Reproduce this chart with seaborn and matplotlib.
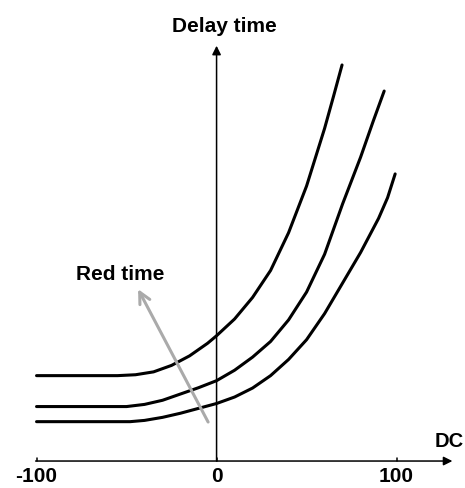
import pandas as pd
import numpy as np
import matplotlib
matplotlib.use('Agg')
import matplotlib.pyplot as plt
import seaborn as sns

# pontos (DC, Delay time) para as 3 curvas
c1_x = [-100, -55, -45, -35, -25, -15, -5, 0, 10, 20, 30, 40, 50, 60, 65, 69.7]
c1_y = [47.5, 47.5, 48.0, 49.6, 53.2, 58.5, 65.5, 69.7, 79.0, 91.0, 106, 127, 153, 185, 203, 220.3]

c2_x = [-100, -50, -40, -30, -20, -10, 0, 10, 20, 30, 40, 50, 60, 70, 80, 87, 93.1]
c2_y = [30.3, 30.3, 31.5, 33.8, 37.3, 40.8, 44.7, 50.5, 57.8, 66.5, 78.5, 94, 115, 143, 169, 189, 205.8]

c3_x = [-100, -48, -40, -30, -20, -10, 0, 10, 20, 30, 40, 50, 60, 70, 80, 90, 95, 99.2]
c3_y = [21.9, 21.9, 22.6, 24.3, 26.6, 29.3, 32.0, 35.6, 40.6, 47.5, 56.5, 67.5, 82, 99, 116, 135, 146.5, 159.7]

tick_vals = [-100, 0, 100]
tick_labels = ['-100', '0', '100']

df = pd.concat([
    pd.DataFrame({'DC': c1_x, 'Delay': c1_y, 'curve': 'c1'}),
    pd.DataFrame({'DC': c2_x, 'Delay': c2_y, 'curve': 'c2'}),
    pd.DataFrame({'DC': c3_x, 'Delay': c3_y, 'curve': 'c3'}),
])

sns.set_style('white')
plt.rcParams['font.family'] = ['Liberation Sans', 'DejaVu Sans']
plt.rcParams['text.color'] = 'black'

fig = plt.figure(figsize=(4.65, 4.89), dpi=100)
ax = fig.add_axes([0, 0, 1, 1])

sns.lineplot(data=df, x='DC', y='Delay', hue='curve', palette=['black'] * 3,
             estimator=None, sort=False, linewidth=2.2, legend=False, ax=ax)

ax.set_xlim(-120.3, 138)
ax.set_ylim(-15, 257)
ax.axis('off')

# eixos com setas
ax.annotate('', xy=(131, 0), xytext=(-100.5, 0),
            arrowprops=dict(arrowstyle='-|>', color='black', lw=1.1, mutation_scale=13,
                            shrinkA=0, shrinkB=0))
ax.annotate('', xy=(0, 231), xytext=(0, 0),
            arrowprops=dict(arrowstyle='-|>', color='black', lw=1.1, mutation_scale=13,
                            shrinkA=0, shrinkB=0))
for v in tick_vals:
    ax.plot([v, v], [0, 1.8], color='black', lw=1.1)
for v, lab in zip(tick_vals, tick_labels):
    ax.text(v, -2.5, lab, ha='center', va='top', fontsize=15, fontweight='bold', color='black')

ax.text(129, 6, 'DC', ha='center', va='bottom', fontsize=14.5, fontweight='bold', color='black')
ax.text(4.5, 242.5, 'Delay time', ha='center', va='center', fontsize=15, fontweight='bold', color='black')

# seta cinza "Red time"
ax.annotate('', xy=(-43.6, 95.6), xytext=(-4.7, 21.7),
            arrowprops=dict(arrowstyle='->', color='#aaaaaa', lw=2.2, mutation_scale=20,
                            shrinkA=0, shrinkB=0))
ax.text(-53.6, 104.5, 'Red time', ha='center', va='center', fontsize=15, fontweight='bold', color='black')

fig.savefig('out.png', dpi=100)
